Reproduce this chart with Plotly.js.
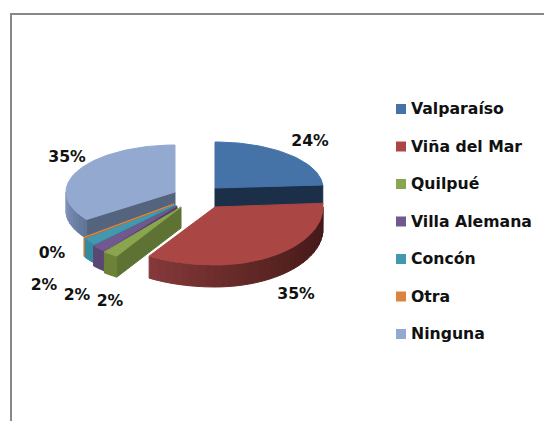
<!DOCTYPE html>
<html>
<head>
<meta charset="utf-8">
<script src="https://cdn.plot.ly/plotly-3.0.1.min.js"></script>
<style>html,body{margin:0;padding:0;background:#fff}#c{width:544px;height:421px}</style>
</head>
<body>
<div id="c"></div>
<script>
// Data
var categories = ["Valparaíso","Viña del Mar","Quilpué","Villa Alemana","Concón","Otra","Ninguna"];
var values = [24, 35, 2, 2, 2, 0.15, 35];
var colors = ["#4572A7","#AA4643","#89A54E","#71588F","#4198AF","#DB843D","#93A9CF"];

// Exploded, tilted pie geometry: one entry per slice
var apexX = [215, 215, 181, 177, 175, 174, 175];
var apexY = [188, 207, 207, 206, 205, 204, 192];
var radX  = [108, 124, 121, 115, 111, 111, 109];
var radRight = [108, 108, 121, 115, 111, 111, 109];
var radY  = [46, 58, 58, 58, 57, 57, 47];
var depth = [19, 22, 21, 20, 19, 19, 19];
var cutFace = ["end","none","start","start","start","start","start"];
var faceColors = ["#1c2f49","#000000","#5e7234","#4f3e66","#2e7a8c","#b86e30","#54647f"];
var wallStops = [
  ["#1c2f49","#1c2f49"],
  ["#43191a","#4a1c1b","#5a2523","#6e2e2c","#85393a"],
  ["#6b8238","#6b8238"],
  ["#5a4772","#5a4772"],
  ["#348ba0","#348ba0"],
  ["#c77634","#c77634"],
  ["#5f7396","#8097bc"]
];
var drawOrder = [0, 6, 5, 4, 3, 2, 1];

// Label and legend layout
var labelX = [310, 296, 110, 77, 44, 52, 67];
var labelY = [142, 295, 302, 296, 286, 254, 158];
var legendMarkerX = 401;
var legendTextX = 411;
var legendTop = 109;
var legendStep = 37.5;
var textOffsetY = 1.5;
var textFont = {family: "DejaVu Sans, sans-serif", size: 15.7, color: "#111111", weight: 700};

function hex(c){return [1,3,5].map(function(i){return parseInt(c.substr(i,2),16);});}
function mix(stops,t){
  var s=t*(stops.length-1), i=Math.min(Math.floor(s),stops.length-2), f=s-i;
  var a=hex(stops[i]), b=hex(stops[i+1]);
  return "rgb("+a.map(function(v,k){return Math.round(v+(b[k]-v)*f);}).join(",")+")";
}
function point(i,deg){
  var r=deg*Math.PI/180, s=Math.sin(r), c=Math.cos(r);
  return [apexX[i]+(s>=0?radRight[i]:radX[i])*s, apexY[i]-radY[i]*c];
}
function poly(pts,color){
  return {type:"scatter",mode:"lines",x:pts.map(function(p){return p[0];}).concat(pts[0][0]),
    y:pts.map(function(p){return p[1];}).concat(pts[0][1]),fill:"toself",fillcolor:color,
    line:{color:color,width:1},hoverinfo:"skip",showlegend:false};
}

var total = values.reduce(function(a,b){return a+b;},0);
var starts = [], cum = 0;
values.forEach(function(v){starts.push(cum/total*360); cum+=v;});

var traces = [];
drawOrder.forEach(function(i){
  var a0=starts[i], a1=a0+values[i]/total*360, d=depth[i];
  if(cutFace[i]!=="none"){
    var p=point(i, cutFace[i]==="end"?a1:a0);
    traces.push(poly([[apexX[i],apexY[i]],p,[p[0],p[1]+d],[apexX[i],apexY[i]+d]],faceColors[i]));
  }
  var w0=Math.max(a0,90), w1=Math.min(a1,270);
  if(w1>w0){
    var n=Math.max(1,Math.ceil((w1-w0)/4));
    for(var k=0;k<n;k++){
      var b0=w0+(w1-w0)*k/n, b1=w0+(w1-w0)*(k+1)/n, pts=[];
      for(var t=0;t<=3;t++) pts.push(point(i,b0+(b1-b0)*t/3));
      for(t=3;t>=0;t--){var q=point(i,b0+(b1-b0)*t/3); pts.push([q[0],q[1]+d]);}
      traces.push(poly(pts,mix(wallStops[i],(k+0.5)/n)));
    }
  }
  var top=[[apexX[i],apexY[i]]], steps=Math.max(2,Math.ceil((a1-a0)/2));
  for(var s=0;s<=steps;s++) top.push(point(i,a0+(a1-a0)*s/steps));
  traces.push(poly(top,colors[i]));
});

// percentage labels
traces.push({type:"scatter",mode:"text",x:labelX,y:labelY,
  text:values.map(function(v){return Math.round(v)+"%";}),
  textposition:"middle center",textfont:textFont,hoverinfo:"skip",showlegend:false,cliponaxis:false});

// legend column
var legendY = categories.map(function(c,i){return legendTop+legendStep*i;});
traces.push({type:"scatter",mode:"markers",
  x:categories.map(function(){return legendMarkerX;}),y:legendY,
  marker:{symbol:"square",size:10,color:colors,line:{width:0}},
  hoverinfo:"skip",showlegend:false,cliponaxis:false});
traces.push({type:"scatter",mode:"text",
  x:categories.map(function(){return legendTextX;}),
  y:legendY.map(function(v){return v+textOffsetY;}),
  text:categories,textposition:"middle right",textfont:textFont,
  hoverinfo:"skip",showlegend:false,cliponaxis:false});

var layout = {
  width:544,height:421,margin:{l:0,r:0,t:0,b:0},showlegend:false,
  paper_bgcolor:"#ffffff",plot_bgcolor:"#ffffff",
  xaxis:{range:[0,544],visible:false,fixedrange:true},
  yaxis:{range:[421,0],visible:false,fixedrange:true},
  shapes:[{type:"line",xref:"x",yref:"y",layer:"below",x0:11,y0:421,x1:11,y1:14,line:{color:"#888888",width:2}},
          {type:"line",xref:"x",yref:"y",layer:"below",x0:10,y0:14,x1:544,y1:14,line:{color:"#888888",width:2}}]
};
Plotly.newPlot("c",traces,layout,{displayModeBar:false,staticPlot:true});
</script>
</body>
</html>
